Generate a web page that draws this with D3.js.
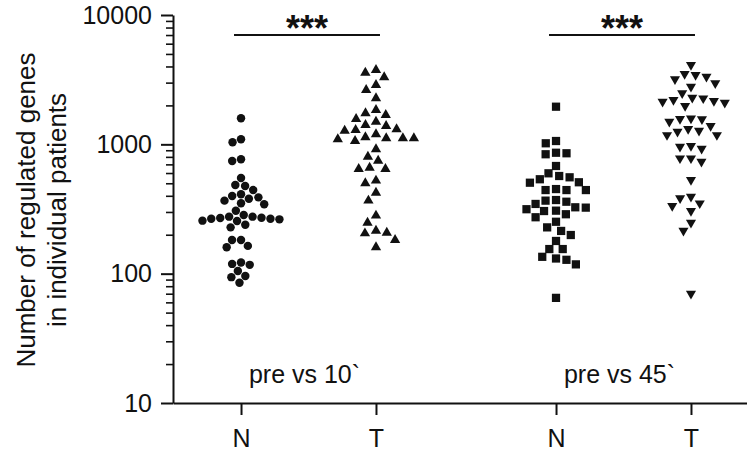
<!DOCTYPE html>
<html>
<head>
<meta charset="utf-8">
<script src="https://cdn.jsdelivr.net/npm/d3@7"></script>
<style>
  html, body { margin: 0; padding: 0; background: #fff; }
  svg { display: block; font-family: "Liberation Sans", Arial, sans-serif; }
</style>
</head>
<body>
<svg id="chart" width="747" height="452"></svg>
<script>
// ---- data ----
const groups = ["pre vs 10`", "pre vs 45`"];
const conditions = ["N", "T"];
const yMajorTicks = [10, 100, 1000, 10000];
const yLabelLines = ["Number of regulated genes", "in individual patients"];
const significance = ["***", "***"];

const pre10N = [1589, 1037, 1094, 766, 743, 549, 485, 443, 476, 411, 389, 380, 399, 367, 344, 350,
  307, 284, 276, 271, 266, 257, 239, 228, 255, 263, 266, 269, 276, 182, 182, 160, 164, 122, 119, 117,
  105, 96, 94, 85];
const pre10T = [3580, 3297, 3757, 2875, 2632, 2270, 1844, 1686, 1738, 1497, 1570, 1386, 1411, 1275,
  1291, 1307, 1133, 1113, 1094, 1061, 1113, 1113, 1196, 916, 802, 747, 645, 645, 660, 524, 500, 423,
  367, 281, 248, 207, 205, 215, 182, 160];
const pre45N = [1954, 1019, 1061, 853, 861, 838, 680, 597, 537, 505, 569, 556, 509, 443, 443, 443,
  451, 367, 346, 307, 324, 288, 315, 326, 273, 360, 305, 371, 252, 228, 214, 199, 179, 155, 155, 135,
  128, 118, 131, 65];
const pre45T = [4105, 3499, 3334, 3436, 3184, 2965, 2792, 2482, 2270, 2163, 2099, 1978, 2137, 2203,
  2295, 1570, 1497, 1563, 1589, 1386, 1275, 1180, 1180, 1253, 1315, 971, 925, 959, 780, 734, 780,
  530, 394, 383, 350, 334, 305, 248, 215, 70];

const series = [
  { group: groups[0], cond: conditions[0], values: pre10N, shape: "circle" },
  { group: groups[0], cond: conditions[1], values: pre10T, shape: "triUp" },
  { group: groups[1], cond: conditions[0], values: pre45N, shape: "square" },
  { group: groups[1], cond: conditions[1], values: pre45T, shape: "triDown" }
];

// ---- layout ----
const W = 747, H = 452;
const margin = { left: 173, top: 15, bottom: 49 };
const plotBottom = H - margin.bottom;
const svg = d3.select("#chart");
const ink = "#111";
const fontSize = 25;

const y = d3.scaleLog().domain([10, 10000]).range([plotBottom, margin.top]);
const xGroup = d3.scaleBand().domain(groups).range([151, 781]).padding(0);
const xCond = d3.scalePoint().domain(conditions).range([0, xGroup.bandwidth()]).padding(0.667);
const xPos = (g, c) => xGroup(g) + xCond(c);

// ---- y axis ----
const minorTicks = [];
for (let e = 1; e < 4; e++) for (let m = 2; m <= 9; m++) minorTicks.push(m * Math.pow(10, e));

const yMinor = svg.append("g").attr("transform", `translate(${margin.left},0)`)
  .call(d3.axisLeft(y).tickValues(minorTicks).tickSize(7).tickFormat(""));
yMinor.select(".domain").remove();
yMinor.selectAll(".tick line").attr("stroke", ink).attr("stroke-width", 1.6);

const yAxis = svg.append("g").attr("transform", `translate(${margin.left},0)`)
  .call(d3.axisLeft(y).tickValues(yMajorTicks).tickSize(12).tickSizeOuter(0).tickPadding(9)
    .tickFormat(d3.format("d")));
yAxis.select(".domain").attr("stroke", ink).attr("stroke-width", 2);
yAxis.selectAll(".tick line").attr("stroke", ink).attr("stroke-width", 2);
yAxis.selectAll(".tick text").attr("font-size", fontSize).attr("fill", ink)
  .attr("font-family", "Liberation Sans, Arial, sans-serif");

// ---- x axis ----
const xTickPositions = [];
groups.forEach(g => conditions.forEach(c => xTickPositions.push({ g, c, x: xPos(g, c) })));
const xAxisScale = d3.scaleLinear().domain([margin.left, W]).range([margin.left, W]);
const xAxis = svg.append("g").attr("transform", `translate(0,${plotBottom})`)
  .call(d3.axisBottom(xAxisScale).tickValues(xTickPositions.map(d => d.x))
    .tickSize(12).tickSizeOuter(0).tickPadding(14)
    .tickFormat((d, i) => xTickPositions[i].c));
xAxis.select(".domain").attr("stroke", ink).attr("stroke-width", 2);
xAxis.selectAll(".tick line").attr("stroke", ink).attr("stroke-width", 2);
xAxis.selectAll(".tick text").attr("font-size", fontSize).attr("fill", ink)
  .attr("font-family", "Liberation Sans, Arial, sans-serif");

// ---- y label ----
const yl = svg.append("text")
  .attr("transform", `translate(35,210) rotate(-90)`)
  .attr("text-anchor", "middle").attr("font-size", 26).attr("fill", ink);
yl.append("tspan").attr("x", 0).attr("y", 0).text(yLabelLines[0]);
yl.append("tspan").attr("x", 0).attr("y", 31).text(yLabelLines[1]);

// ---- beeswarm ----
function swarm(values, cx, d) {
  const pts = values.map(v => ({ v, y: y(v) })).sort((a, b) => a.y - b.y);
  const placed = [];
  pts.forEach(p => {
    const forb = [];
    placed.forEach(q => {
      const dy = Math.abs(q.y - p.y);
      if (dy < d) {
        const w = Math.sqrt(d * d - dy * dy);
        forb.push([q.dx - w, q.dx + w]);
      }
    });
    const cands = [0];
    forb.forEach(f => { cands.push(f[0], f[1]); });
    cands.sort((a, b) => Math.abs(a) - Math.abs(b) || a - b);
    let best = 0;
    for (const c of cands) {
      if (forb.every(f => c <= f[0] + 1e-6 || c >= f[1] - 1e-6)) { best = c; break; }
    }
    p.dx = best;
    placed.push(p);
  });
  return pts.map(p => ({ x: cx + p.dx, y: p.y }));
}

const symbolFor = {
  circle: { type: d3.symbolCircle, size: 56, rot: 0, d: 9 },
  triUp: { type: d3.symbolTriangle, size: 46, rot: 0, d: 11 },
  square: { type: d3.symbolSquare, size: 68, rot: 0, d: 10.5 },
  triDown: { type: d3.symbolTriangle, size: 44, rot: 180, d: 11 }
};

series.forEach(s => {
  const sym = symbolFor[s.shape];
  const pts = swarm(s.values, xPos(s.group, s.cond), sym.d);
  svg.append("g").selectAll("path").data(pts).join("path")
    .attr("d", d3.symbol().type(sym.type).size(sym.size))
    .attr("transform", p => `translate(${p.x},${p.y}) rotate(${sym.rot})`)
    .attr("fill", ink);
});

// ---- group labels ----
groups.forEach(g => {
  const mid = (xPos(g, conditions[0]) + xPos(g, conditions[1])) / 2;
  svg.append("text").attr("x", mid - 4).attr("y", 383)
    .attr("text-anchor", "middle").attr("font-size", fontSize).attr("fill", ink).text(g);
});

// ---- significance bars ----
groups.forEach((g, i) => {
  const x1 = xPos(g, conditions[0]) - 7, x2 = xPos(g, conditions[1]) + 4;
  svg.append("line").attr("x1", x1).attr("x2", x2).attr("y1", 35).attr("y2", 35)
    .attr("stroke", ink).attr("stroke-width", 2);
  svg.append("text").attr("x", (x1 + x2) / 2).attr("y", 41)
    .attr("text-anchor", "middle").attr("font-size", 36).attr("font-weight", "bold")
    .attr("fill", ink).text(significance[i]);
});
</script>
</body>
</html>
